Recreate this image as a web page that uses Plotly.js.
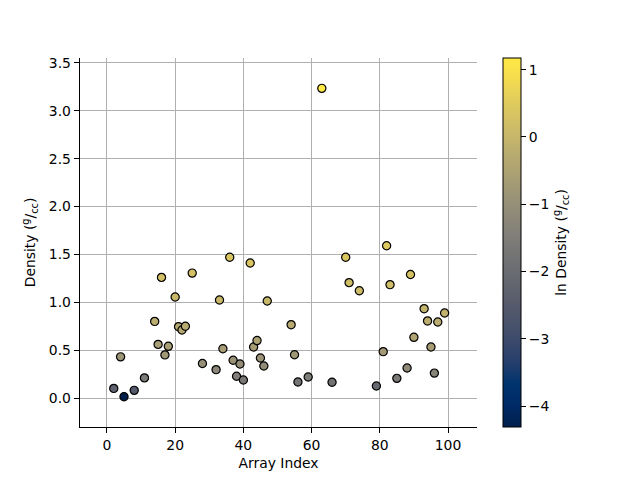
<!DOCTYPE html>
<html>
<head>
<meta charset="utf-8">
<script src="https://cdn.plot.ly/plotly-3.0.1.min.js"></script>
<style>html,body{margin:0;padding:0;background:#fff;}#chart{width:640px;height:480px;}</style>
</head>
<body>
<div id="chart"></div>
<script>
const arrayIndex = [2, 4, 5, 8, 11, 14, 15, 16, 17, 18, 20, 21, 22, 23, 25, 28, 32, 33, 34, 36, 37, 38, 39, 40, 42, 43, 44, 45, 46, 47,
  54, 55, 56, 59, 63, 66, 70, 71, 74, 79, 81, 82, 83, 85, 88, 89, 90, 93, 94, 95, 96, 97, 99];
const density = [0.10, 0.43, 0.0135, 0.08, 0.21, 0.80, 0.56, 1.26, 0.45, 0.54, 1.055, 0.745, 0.71, 0.75, 1.305, 0.36, 0.296, 1.024, 0.515, 1.47, 0.394, 0.227, 0.355, 0.188, 1.41, 0.533, 0.60, 0.418, 0.334, 1.013,
  0.766, 0.452, 0.167, 0.219, 3.235, 0.164, 1.47, 1.205, 1.12, 0.125, 0.484, 1.59, 1.184, 0.205, 0.313, 1.29, 0.634, 0.933, 0.805, 0.533, 0.26, 0.794, 0.888];
const lnDensity = density.map(v => Math.log(v));

const fontFam = 'DejaVu Sans, sans-serif';
const trace = {
  type: 'scatter',
  mode: 'markers',
  x: arrayIndex,
  y: density,
  marker: {
    size: 8.2,
    color: lnDensity,
    colorscale: 'Cividis',
    cmin: -4.31,
    cmax: 1.174,
    line: {color: 'black', width: 1.2},
    opacity: 1,
    colorbar: {
      x: 1.0655, xanchor: 'left', xref: 'paper',
      y: 0.5, yanchor: 'middle',
      len: 1, lenmode: 'fraction',
      thickness: 18, thicknessmode: 'pixels',
      outlinewidth: 1, outlinecolor: 'black',
      ticks: 'outside', ticklen: 5, tickwidth: 1, tickcolor: 'black',
      tickvals: [-4, -3, -2, -1, 0, 1],
      ticktext: ['\u22124', '\u22123', '\u22122', '\u22121', '0', '1'],
      tickfont: {family: fontFam, size: 13.9, color: 'black'},
      xpad: 0, ypad: 0,
      title: {text: 'ln Density (<sup>g</sup>/<sub>cc</sub>)', side: 'right', font: {family: fontFam, size: 13.9, color: 'black'}}
    }
  },
  showlegend: false,
  hoverinfo: 'x+y'
};

const layout = {
  width: 640, height: 480,
  margin: {l: 80, r: 163, t: 58, b: 53},
  paper_bgcolor: 'white', plot_bgcolor: 'white',
  font: {family: fontFam, size: 13.9, color: 'black'},
  xaxis: {
    range: [-7.9, 108.5],
    tickvals: [0, 20, 40, 60, 80, 100],
    showgrid: true, gridcolor: '#b0b0b0', gridwidth: 1,
    zeroline: false,
    showline: true, linecolor: 'black', linewidth: 1.3,
    ticks: 'outside', ticklen: 5, tickwidth: 1, tickcolor: 'black',
    tickfont: {family: fontFam, size: 13.9, color: 'black'},
    title: {text: 'Array Index', font: {family: fontFam, size: 13.9, color: 'black'}, standoff: 6}
  },
  yaxis: {
    range: [-0.303, 3.552],
    tickvals: [0, 0.5, 1, 1.5, 2, 2.5, 3, 3.5],
    ticktext: ['0.0', '0.5', '1.0', '1.5', '2.0', '2.5', '3.0', '3.5'],
    showgrid: true, gridcolor: '#b0b0b0', gridwidth: 1,
    zeroline: false,
    showline: true, linecolor: 'black', linewidth: 1.3,
    ticks: 'outside', ticklen: 5, tickwidth: 1, tickcolor: 'black',
    tickfont: {family: fontFam, size: 13.9, color: 'black'},
    title: {text: 'Density (<sup>g</sup>/<sub>cc</sub>)', font: {family: fontFam, size: 13.9, color: 'black'}, standoff: 10}
  }
};

Plotly.newPlot('chart', [trace], layout, {displayModeBar: false, staticPlot: true});
</script>
</body>
</html>
